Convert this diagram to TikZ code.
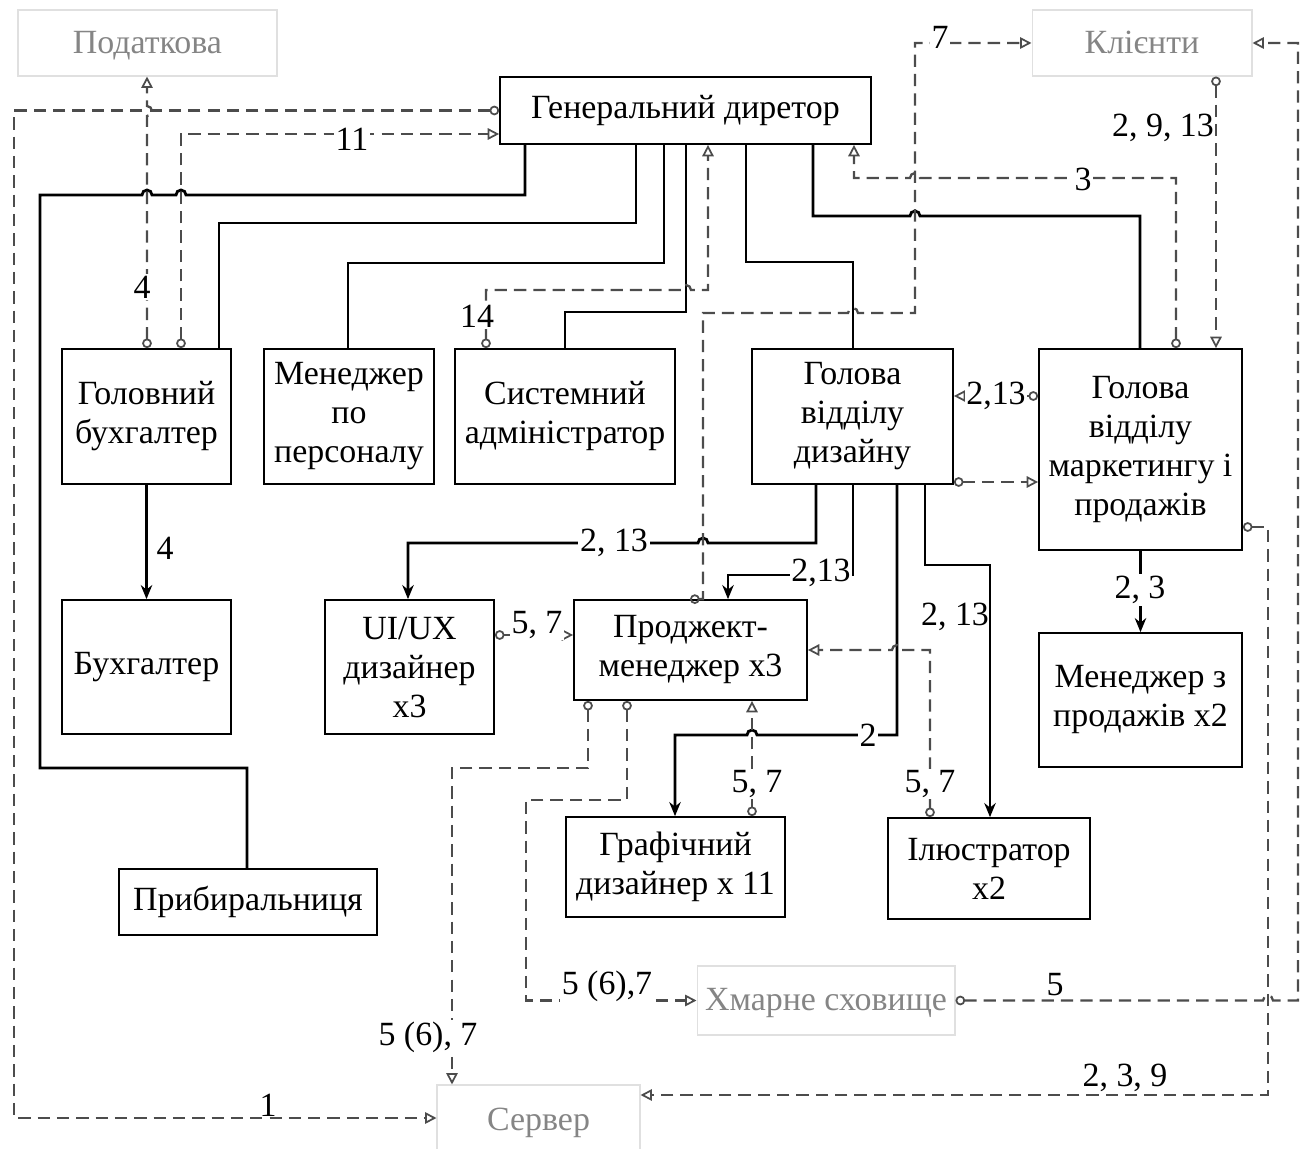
\documentclass[tikz,border=0pt]{standalone}
\usepackage{fontspec}
\setmainfont{Liberation Serif}
\usetikzlibrary{arrows.meta}
\begin{document}
\begin{tikzpicture}[x=0.02cm,y=-0.02cm,
  every node/.style={font=\fontsize{19.3}{22.2}\selectfont},
  box/.style={draw, line width=1pt, align=center, inner sep=0pt},
  ext/.style={draw=black!12, line width=0.6pt, text=black!48, inner sep=0pt, text depth=0.25ex},
  org/.style={line width=1.6pt, black},
  orga/.style={org, -{Stealth[length=8pt,width=6.5pt]}},
  inf/.style={line width=1.3pt, black!70, dash pattern=on 7pt off 4pt,
     {Circle[open,length=5.5pt,width=5.5pt,line width=1pt]}-{Triangle[open,length=6.5pt,width=6.5pt,line width=1pt]}},
  lab/.style={fill=white, inner sep=1pt},
  nolab/.style={inner sep=1pt}
]
\useasboundingbox (0,0) rectangle (1303,1149);

% external (grey) boxes
\node[ext, minimum width=5.18cm, minimum height=1.32cm] (pod) at (147.5,43) {Податкова};
\node[ext, minimum width=4.4cm, minimum height=1.32cm] (kli) at (1142,43) {Клієнти};
\node[ext, minimum width=5.16cm, minimum height=1.38cm] (cloud) at (826,1000.5) {Хмарне сховище};
\node[ext, minimum width=4.06cm, minimum height=1.4cm] (se) at (538.5,1120) {Сервер};

% boxes
\node[box, minimum width=7.42cm, minimum height=1.34cm] (gd) at (685.5,110.5) {Генеральний диретор};
\node[box, minimum width=3.38cm, minimum height=2.7cm] (gb) at (146.5,416.5) {Головний\\бухгалтер};
\node[box, minimum width=3.4cm, minimum height=2.7cm] (mp) at (349,416.5) {Менеджер\\по\\персоналу};
\node[box, minimum width=4.4cm, minimum height=2.7cm] (sa) at (565,416.5) {Системний\\адміністратор};
\node[box, minimum width=4.02cm, minimum height=2.7cm] (hd) at (852.5,416.5) {Голова\\відділу\\дизайну};
\node[box, minimum width=4.06cm, minimum height=4.02cm] (hm) at (1140.5,449.5) {Голова\\відділу\\маркетингу і\\продажів};
\node[box, minimum width=3.38cm, minimum height=2.68cm] (bu) at (146.5,667) {Бухгалтер};
\node[box, minimum width=3.38cm, minimum height=2.68cm] (ui) at (409.5,667) {UI/UX\\дизайнер\\x3};
\node[box, minimum width=4.66cm, minimum height=2.0cm] (pm) at (690.5,650) {Проджект-\\менеджер x3};
\node[box, minimum width=4.06cm, minimum height=2.68cm] (ms) at (1140.5,700) {Менеджер з\\продажів x2};
\node[box, minimum width=4.38cm, minimum height=2.0cm] (gr) at (675.5,867) {Графічний\\дизайнер x 11};
\node[box, minimum width=4.04cm, minimum height=2.02cm] (il) at (989,868.5) {Ілюстратор\\x2};
\node[box, minimum width=5.16cm, minimum height=1.32cm] (pr) at (248,902) {Прибиральниця};

% solid (subordination) lines
\draw[org] (525,0 |- gd.south) -- (525,195) -- (186,195)
   arc[start angle=0,end angle=180,radius=0.1cm] -- (152,195)
   arc[start angle=0,end angle=180,radius=0.1cm] -- (40,195) -- (40,768) -- (247,768) -- (247,0 |- pr.north);
\draw[org] (636,0 |- gd.south) -- (636,223) -- (219,223) -- (219,0 |- gb.north);
\draw[org] (664,0 |- gd.south) -- (664,263) -- (348,263) -- (348,0 |- mp.north);
\draw[org] (686,0 |- gd.south) -- (686,312) -- (565,312) -- (565,0 |- sa.north);
\draw[org] (746,0 |- gd.south) -- (746,262) -- (853,262) -- (853,0 |- hd.north);
\draw[org] (813,0 |- gd.south) -- (813,216) -- (910,216)
   arc[start angle=180,end angle=0,radius=0.1cm] -- (1140,216) -- (1140,0 |- hm.north);
\draw[orga] (gb.south) -- (bu.north);
\node[nolab] (l4b) at (165,548) {4};
\draw[orga] (816,0 |- hd.south) -- (816,543) -- (708,543)
   arc[start angle=0,end angle=180,radius=0.1cm] -- (408,543) -- (408,0 |- ui.north);
\node[lab] (l213a) at (614,543) {2, 13};
\draw[orga] (853,0 |- hd.south) -- (853,575) -- (728,575) -- (728,0 |- pm.north);
\node[lab] (l213b) at (821,573) {2,13};
\draw[orga] (897,0 |- hd.south) -- (897,735) -- (757,735)
   arc[start angle=0,end angle=180,radius=0.1cm] -- (675,735) -- (675,0 |- gr.north);
\node[lab] (l2) at (868,735) {2};
\draw[orga] (925,0 |- hd.south) -- (925,565) -- (990,565) -- (990,0 |- il.north);
\node[nolab] (l213c) at (955,617) {2, 13};
\draw[orga] (hm.south) -- (ms.north);
\node[lab] (l23) at (1140,590) {2, 3};

% dashed (information) lines
\draw[inf] (147,0 |- gb.north) -- (147,116)
   arc[start angle=-90,end angle=90,radius=0.1cm] -- (147,0 |- pod.south);
\node[lab] (l4a) at (142,287) {4};
\draw[inf] (gd.west) -- (14,110.5) -- (14,1118) -- (se.west |- 0,1118);
\node[nolab] (l1) at (268,1105) {1};
\draw[inf] (181,0 |- gb.north) -- (181,134) -- (gd.west |- 0,134);
\node[lab] (l11) at (352,139) {11};
\draw[inf] (486,0 |- sa.north) -- (486,290) -- (681,290)
   arc[start angle=180,end angle=0,radius=0.1cm] -- (708,290) -- (708,0 |- gd.south);
\node[lab] (l14) at (477,316) {14};
\draw[inf] (1176,0 |- hm.north) -- (1176,178) -- (920,178)
   arc[start angle=0,end angle=180,radius=0.1cm] -- (854,178) -- (854,0 |- gd.south);
\node[lab] (l3) at (1083,179) {3};
\draw[inf] (690,0 |- pm.north) -- (703,0 |- pm.north) -- (703,313) -- (848,313)
   arc[start angle=180,end angle=0,radius=0.1cm] -- (915,313) -- (915,43) -- (kli.west);
\node[lab] (l7) at (940,37) {7};
\draw[inf] (1216,0 |- kli.south) -- (1216,0 |- hm.north);
\node[nolab] (l2913) at (1163,128) {2, 9, 13};
\draw[inf] (hm.east |- 0,527) -- (1268,527) -- (1268,1095) -- (se.east |- 0,1095);
\node[nolab] (l239) at (1125,1078) {2, 3, 9};
\draw[inf] (cloud.east) -- (1263,1000.5)
   arc[start angle=180,end angle=0,radius=0.1cm] -- (1298,1000.5) -- (1298,43) -- (kli.east);
\node[nolab] (l5) at (1055,985) {5};
\draw[inf] (hm.west |- 0,396) -- (hd.east |- 0,396);
\node[lab] (l213d) at (996,396) {2,13};
\draw[inf] (hd.east |- 0,482) -- (hm.west |- 0,482);
\draw[inf] (ui.east |- 0,635) -- (pm.west |- 0,635);
\node[lab] (l57a) at (537,625) {5, 7};
\draw[inf] (930,0 |- il.north) -- (930,650) -- (902,650)
   arc[start angle=0,end angle=180,radius=0.1cm] -- (pm.east |- 0,650);
\node[lab] (l57c) at (930,784) {5, 7};
\draw[inf] (752,0 |- gr.north) -- (752,0 |- pm.south);
\node[lab] (l57b) at (757,784) {5, 7};
\draw[inf] (588,0 |- pm.south) -- (588,768) -- (452,768) -- (452,0 |- se.north);
\node[lab] (l567a) at (428,1037) {5 (6), 7};
\draw[inf] (627,0 |- pm.south) -- (627,800) -- (526,800) -- (526,1000.5) -- (cloud.west);
\node[lab] (l567b) at (607,986) {5 (6),7};
\end{tikzpicture}
\end{document}
